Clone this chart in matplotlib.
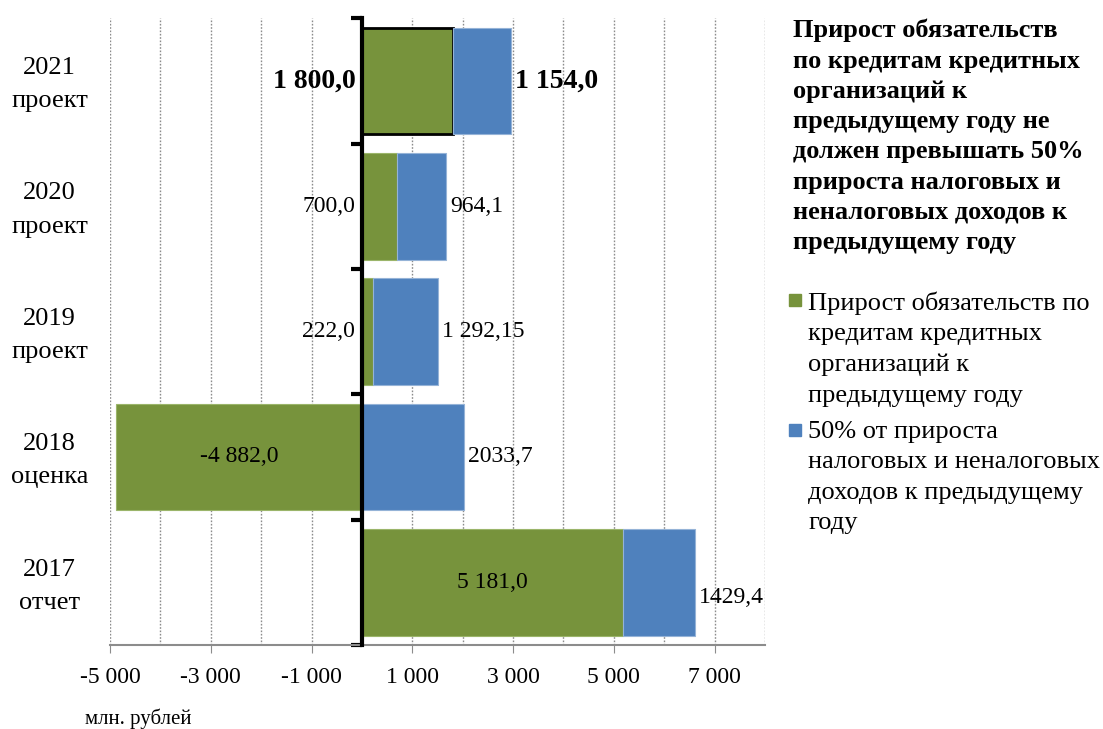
import numpy as np
import matplotlib.pyplot as plt
from matplotlib.ticker import FixedLocator, MultipleLocator
from matplotlib.patches import Rectangle

plt.rcParams['font.family'] = ['Liberation Serif', 'DejaVu Serif']

# data (bottom to top)
years = ["2017\nотчет", "2018\nоценка", "2019\nпроект", "2020\nпроект", "2021\nпроект"]
credit_growth = [5181.0, -4882.0, 222.0, 700.0, 1800.0]
revenue_half = [1429.4, 2033.7, 1292.15, 964.1, 1154.0]
green_labels = ["5 181,0", "-4 882,0", "222,0", "700,0", "1 800,0"]
blue_labels = ["1429,4", "2033,7", "1 292,15", "964,1", "1 154,0"]
x_ticks = [-5000, -3000, -1000, 1000, 3000, 5000, 7000]
x_tick_labels = ["-5 000", "-3 000", "-1 000", "1 000", "3 000", "5 000", "7 000"]

legend_title = ("Прирост обязательств\nпо кредитам кредитных\nорганизаций к\n"
                "предыдущему году не\nдолжен превышать 50%\nприроста налоговых и\n"
                "неналоговых доходов к\nпредыдущему году")
series_names = ["Прирост обязательств по\nкредитам кредитных\nорганизаций к\nпредыдущему году",
                "50% от прироста\nналоговых и неналоговых\nдоходов к предыдущему\nгоду"]

green = "#77933C"
blue = "#4F81BD"
W, H = 1103, 729

fig = plt.figure(figsize=(W / 100, H / 100), dpi=100)
ax = fig.add_axes([0.0997, 0.1152, 0.5939, 0.8598])

y = np.arange(len(years))
credit_growth = np.array(credit_growth)
revenue_half = np.array(revenue_half)
blue_left = np.maximum(credit_growth, 0)

gb = ax.barh(y, credit_growth, height=0.85, color=green, edgecolor="#9BB56A",
             linewidth=0.8, zorder=3)
bb = ax.barh(y, revenue_half, left=blue_left, height=0.85, color=blue,
             edgecolor="#95B3D7", linewidth=0.8, zorder=3)
# highlighted last year
gb[-1].set_edgecolor("black")
gb[-1].set_linewidth(2)

ax.set_xlim(-5000, 8000)
ax.set_ylim(-0.5, len(years) - 0.5)

# grid
ax.xaxis.set_major_locator(FixedLocator(x_ticks))
ax.set_xticklabels(x_tick_labels, fontsize=17)
ax.xaxis.set_minor_locator(MultipleLocator(1000))
ax.grid(axis="x", which="both", linestyle=(0, (1.2, 1.2)), color="#8C8C8C",
        linewidth=1.0, zorder=0)
ax.tick_params(axis="x", which="major", length=6, color="#8C8C8C", pad=10)
ax.tick_params(axis="x", which="minor", length=0)

for s in ["top", "right"]:
    ax.spines[s].set_visible(False)
ax.spines["bottom"].set_color("#8C8C8C")
ax.spines["bottom"].set_linewidth(1.5)
ax.spines["left"].set_position(("data", 0))
ax.spines["left"].set_linewidth(3)
ax.spines["left"].set_zorder(5)

ax.set_yticks([])
ax.yaxis.set_minor_locator(FixedLocator(np.arange(-0.5, len(years), 1)))
ax.tick_params(axis="y", which="minor", length=8, width=3, color="black")

# category labels far left
for yi, lab in zip(y, years):
    ax.text(-0.092, yi - 0.03, lab, transform=ax.get_yaxis_transform(), ha="center",
            va="center", fontsize=19, linespacing=1.65)

# data labels
for i in range(len(years)):
    last = i == len(years) - 1
    fs = 20 if last else 17
    fw = "bold" if last else "normal"
    g = credit_growth[i]
    if abs(g) > 2000:
        ax.text(g / 2, y[i], green_labels[i], ha="center", va="center",
                fontsize=17, zorder=6)
    else:
        ax.text(-130, y[i], green_labels[i], ha="right", va="center",
                fontsize=fs, fontweight=fw, zorder=6)
    end = blue_left[i] + revenue_half[i]
    dy = -0.12 if i == 0 else 0
    ax.text(end + 80, y[i] + dy, blue_labels[i], ha="left", va="center",
            fontsize=fs, fontweight=fw, zorder=6)

# legend drawn by hand: title + two entries
fig.text(793 / W, 1 - 19 / H, legend_title, ha="left", va="top", fontsize=19,
         fontweight="bold", linespacing=1.4)
entry_tops = [291, 421]
for top, name, col in zip(entry_tops, series_names, [green, blue]):
    fig.text(808 / W, 1 - top / H, name, ha="left", va="top", fontsize=19,
             linespacing=1.5)
    fig.patches.append(Rectangle((789 / W, 1 - (top + 15) / H), 12 / W, 12 / H,
                                 transform=fig.transFigure, color=col))

fig.text(85 / W, 1 - 719 / H, "млн. рублей", ha="left", va="center", fontsize=15)

fig.savefig("out.png", dpi=100)
